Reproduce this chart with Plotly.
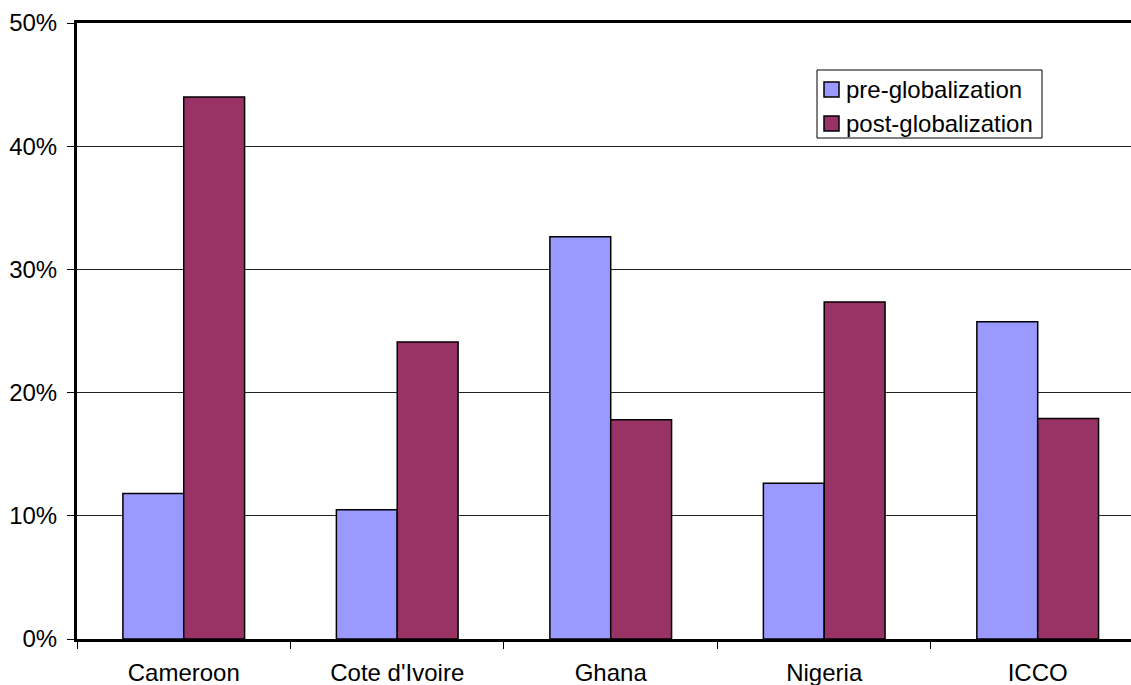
import plotly.graph_objects as go

# Volatility by producer / reference price series
categories = ["Cameroon", "Cote d'Ivoire", "Ghana", "Nigeria", "ICCO"]
pre_globalization = [0.118, 0.105, 0.3265, 0.1265, 0.2575]
post_globalization = [0.440, 0.241, 0.178, 0.2735, 0.179]
y_ticks = [0.0, 0.1, 0.2, 0.3, 0.4, 0.5]
y_tick_labels = ["0%", "10%", "20%", "30%", "40%", "50%"]

FONT = "Liberation Sans, Arial, sans-serif"
PRE_COLOR = "#9999FF"
POST_COLOR = "#993366"

fig = go.Figure()
fig.add_trace(go.Bar(
    name="pre-globalization", x=categories, y=pre_globalization,
    marker=dict(color=PRE_COLOR, line=dict(color="#000000", width=1.5)),
))
fig.add_trace(go.Bar(
    name="post-globalization", x=categories, y=post_globalization,
    marker=dict(color=POST_COLOR, line=dict(color="#000000", width=1.5)),
))

W, H = 1131, 685
L, R, T, B = 77, 0, 23, 46


def px_x(px):
    return (px - L) / (W - L - R)


def px_y(py):
    return (H - B - py) / (H - T - B)


# Boxed legend in the upper right of the plot area
shapes = [dict(type="rect", xref="paper", yref="paper",
               x0=px_x(817), x1=px_x(1042), y0=px_y(138), y1=px_y(70),
               line=dict(color="#000000", width=1), fillcolor="white", layer="above")]
annotations = []
for row_center, name, color in [(89.5, "pre-globalization", PRE_COLOR),
                                (123.5, "post-globalization", POST_COLOR)]:
    shapes.append(dict(type="rect", xref="paper", yref="paper",
                       x0=px_x(824), x1=px_x(839),
                       y0=px_y(row_center + 7.5), y1=px_y(row_center - 7.5),
                       line=dict(color="#000000", width=1.5), fillcolor=color, layer="above"))
    annotations.append(dict(xref="paper", yref="paper", x=px_x(844), y=px_y(row_center),
                            xanchor="left", yanchor="middle", showarrow=False, text=name,
                            font=dict(family=FONT, size=24, color="black")))

fig.update_layout(
    width=W, height=H,
    margin=dict(l=L, r=R, t=T, b=B),
    paper_bgcolor="white", plot_bgcolor="white",
    barmode="group", bargap=0.43, bargroupgap=0,
    font=dict(family=FONT, size=24, color="black"),
    showlegend=False,
    shapes=shapes, annotations=annotations,
)

fig.update_xaxes(
    type="category", range=[-0.5, 4.437],
    showline=True, linecolor="black", linewidth=3, mirror=True,
    showgrid=False, zeroline=False,
    ticks="outside", tickson="boundaries", ticklen=7, tickwidth=1, tickcolor="black",
    ticklabelstandoff=10,
    tickfont=dict(family=FONT, size=24, color="black"),
)
fig.update_yaxes(
    range=[0, 0.5], tickvals=y_ticks, ticktext=y_tick_labels,
    showline=True, linecolor="black", linewidth=3, mirror=False,
    showgrid=True, gridcolor="#222222", gridwidth=1, zeroline=False,
    ticks="outside", ticklen=7, tickwidth=1, tickcolor="black",
    ticklabelstandoff=5,
    tickfont=dict(family=FONT, size=24, color="black"),
)

fig.write_html("out.html")
